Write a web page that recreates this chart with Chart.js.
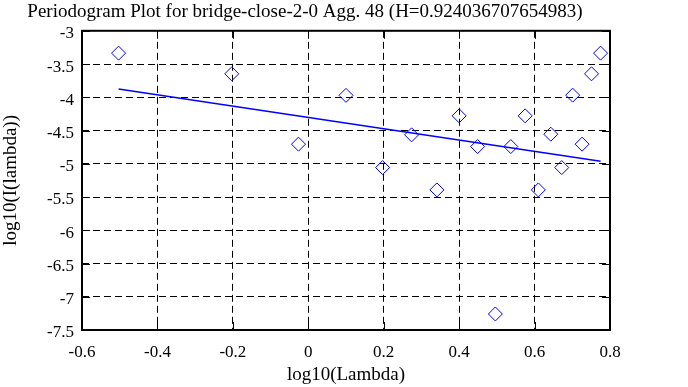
<!DOCTYPE html>
<html>
<head>
<meta charset="utf-8">
<script src="https://cdn.jsdelivr.net/npm/chart.js@4/dist/chart.umd.min.js"></script>
<style>
  html, body { margin: 0; padding: 0; background: #fff; }
  #wrap { width: 688px; height: 387px; }
</style>
</head>
<body>
<div id="wrap"><canvas id="chart"></canvas></div>
<script>
// Periodogram points (log10 frequency vs log10 power)
const LOG_LAMBDA = [-0.503, -0.203, -0.026, 0.100, 0.197, 0.274, 0.341, 0.400, 0.449, 0.496,
                    0.537, 0.575, 0.610, 0.643, 0.672, 0.701, 0.726, 0.751, 0.775];
const LOG_POWER = [-3.336, -3.647, -4.705, -3.971, -5.057, -4.565, -5.393, -4.279, -4.741, -7.259,
                   -4.741, -4.279, -5.393, -4.555, -5.057, -3.968, -4.705, -3.647, -3.336];

// Least squares fit line end points
const FIT_X = [-0.503, 0.775];
const FIT_Y = [-3.876, -4.962];

// Axis ticks
const X_TICKS = [-0.6, -0.4, -0.2, 0, 0.2, 0.4, 0.6, 0.8];
const X_LABELS = ['-0.6', '-0.4', '-0.2', '0', '0.2', '0.4', '0.6', '0.8'];
const Y_TICKS = [-7.5, -7, -6.5, -6, -5.5, -5, -4.5, -4, -3.5, -3];
const Y_LABELS = ['-7.5', '-7', '-6.5', '-6', '-5.5', '-5', '-4.5', '-4', '-3.5', '-3'];

const TITLE = 'Periodogram Plot for bridge-close-2-0 Agg. 48 (H=0.924036707654983)';
const FONT = '"Liberation Serif", "Times New Roman", serif';

Chart.defaults.font.family = FONT;
Chart.defaults.color = '#000';

// white background + gnuplot style frame with inward tick marks
const framePlugin = {
    id: 'frame',
    beforeDraw(chart) {
        const ctx = chart.ctx;
        ctx.save();
        ctx.fillStyle = '#fff';
        ctx.fillRect(0, 0, chart.width, chart.height);
        ctx.restore();
    },
    afterDatasetsDraw(chart) {
        const { ctx, chartArea: a, scales } = chart;
        const len = 8;
        ctx.save();
        ctx.strokeStyle = '#000';
        ctx.lineWidth = 1;
        ctx.beginPath();
        X_TICKS.forEach(v => {
            const px = Math.round(scales.x.getPixelForValue(v)) + 0.5;
            ctx.moveTo(px, a.bottom); ctx.lineTo(px, a.bottom - len);
            ctx.moveTo(px, a.top); ctx.lineTo(px, a.top + len);
        });
        Y_TICKS.forEach(v => {
            const py = Math.round(scales.y.getPixelForValue(v)) + 0.5;
            ctx.moveTo(a.left, py); ctx.lineTo(a.left + len, py);
            ctx.moveTo(a.right, py); ctx.lineTo(a.right - len, py);
        });
        ctx.stroke();
        ctx.lineWidth = 2;
        ctx.strokeRect(a.left, a.top, a.right - a.left, a.bottom - a.top);
        ctx.restore();
    }
};

const points = LOG_LAMBDA.map((x, i) => ({ x: x, y: LOG_POWER[i] }));
const fitLine = FIT_X.map((x, i) => ({ x: x, y: FIT_Y[i] }));

new Chart(document.getElementById('chart'), {
    type: 'scatter',
    data: {
        datasets: [{
            label: 'periodogram',
            data: points,
            pointStyle: 'rectRot',
            pointRadius: 7,
            borderColor: '#0000ff',
            backgroundColor: 'rgba(0,0,0,0)',
            borderWidth: 1
        }, {
            type: 'line',
            label: 'fit',
            data: fitLine,
            borderColor: '#0000ff',
            borderWidth: 1.5,
            pointRadius: 0,
            fill: false
        }]
    },
    options: {
        responsive: true,
        maintainAspectRatio: false,
        animation: false,
        events: [],
        layout: { padding: { left: 0, right: 78, top: 0, bottom: 0 } },
        plugins: {
            legend: { display: false },
            tooltip: { enabled: false },
            title: {
                display: true,
                text: TITLE,
                color: '#000',
                font: { family: FONT, size: 19, weight: 'normal' },
                padding: { top: 1, bottom: 7 }
            }
        },
        scales: {
            x: {
                type: 'linear',
                min: -0.6,
                max: 0.8,
                afterBuildTicks: s => { s.ticks = X_TICKS.map(v => ({ value: v })); },
                afterFit: s => { s.height = 57; },
                ticks: {
                    color: '#000',
                    padding: 12,
                    maxRotation: 0,
                    font: { family: FONT, size: 17 },
                    callback: (v, i) => X_LABELS[i]
                },
                grid: { color: '#000', lineWidth: 1, drawTicks: false },
                border: { display: false, dash: [7, 4] },
                title: {
                    display: true,
                    text: 'log10(Lambda)',
                    color: '#000',
                    font: { family: FONT, size: 19 },
                    padding: { top: 0, bottom: 1 }
                }
            },
            y: {
                type: 'linear',
                min: -7.5,
                max: -3,
                afterBuildTicks: s => { s.ticks = Y_TICKS.map(v => ({ value: v })); },
                afterFit: s => { s.width = 82; },
                ticks: {
                    color: '#000',
                    padding: 8,
                    labelOffset: 3,
                    font: { family: FONT, size: 17 },
                    callback: (v, i) => Y_LABELS[i]
                },
                grid: { color: '#000', lineWidth: 1, drawTicks: false },
                border: { display: false, dash: [7, 4] },
                title: {
                    display: true,
                    text: 'log10(I(lambda))',
                    color: '#000',
                    font: { family: FONT, size: 19 },
                    padding: { top: 0, bottom: 0 }
                }
            }
        }
    },
    plugins: [framePlugin]
});
</script>
</body>
</html>
